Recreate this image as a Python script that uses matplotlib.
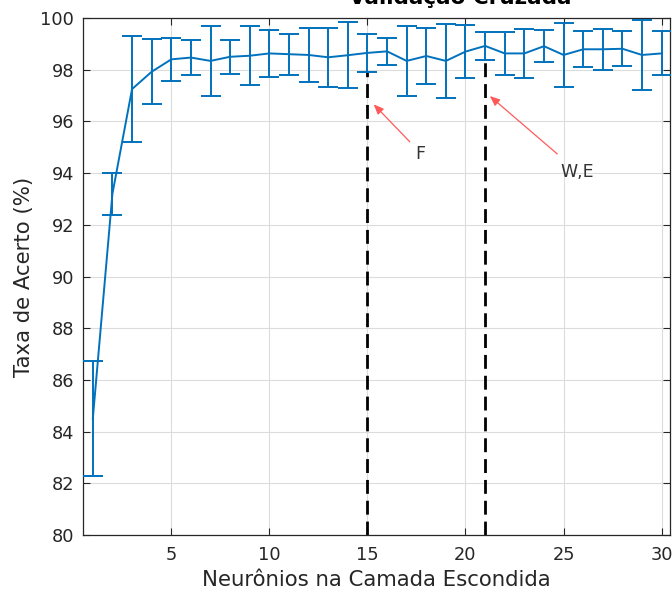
import matplotlib
matplotlib.use("Agg")
import matplotlib.pyplot as plt
import numpy as np

plt.rcParams['font.family'] = ['DejaVu Sans']

# Hidden-layer sizes and cross-validated accuracy (mean and spread)
neurons = list(range(1, 31))
accuracy = [84.5, 93.2, 97.25, 97.92, 98.40, 98.47, 98.34, 98.50, 98.54, 98.63,
            98.60, 98.57, 98.48, 98.56, 98.65, 98.71, 98.34, 98.53, 98.34, 98.70,
            98.92, 98.63, 98.63, 98.91, 98.57, 98.79, 98.79, 98.81, 98.57, 98.63]
spread = [2.22, 0.82, 2.05, 1.25, 0.83, 0.69, 1.35, 0.66, 1.14, 0.90,
          0.80, 1.06, 1.15, 1.28, 0.75, 0.51, 1.36, 1.09, 1.43, 1.02,
          0.53, 0.84, 0.94, 0.62, 1.24, 0.70, 0.79, 0.67, 1.35, 0.85]

yticks = list(range(80, 101, 2))
xticks = [5, 10, 15, 20, 25, 30]

# Selected configurations marked with dashed lines and arrows
marks = [
    {"n": 15, "label": "F", "head": (15.32, 96.66), "tail": (17.16, 95.21), "text": (17.7, 94.74)},
    {"n": 21, "label": "W,E", "head": (21.24, 96.98), "tail": (24.68, 94.74), "text": (25.7, 94.05)},
]

blue = '#0072BD'
grey_text = '#262626'

fig = plt.figure(figsize=(6.72, 5.98), dpi=100)
ax = fig.add_axes([83 / 672, 1 - 535 / 598, (669.5 - 83) / 672, (535 - 18) / 598])

ax.errorbar(neurons, accuracy, yerr=spread, color=blue, lw=1.4, elinewidth=1.4,
            capsize=7.5, capthick=1.4, zorder=3)

for m in marks:
    i = neurons.index(m["n"])
    ax.vlines(m["n"], 80, accuracy[i] - spread[i], colors='black', linestyles=(0, (5, 2.5)),
              lw=2, zorder=2)
    ax.annotate('', xy=m["head"], xytext=m["tail"],
                arrowprops=dict(arrowstyle='-|>,head_length=0.6,head_width=0.25',
                                color='#ff5a5a', lw=0.9, shrinkA=0, shrinkB=0), zorder=4)
    ax.text(m["text"][0], m["text"][1], m["label"], ha='center', va='center',
            fontsize=12.5, color='#333333')

ax.set_xlim(0.5, 30.4)
ax.set_ylim(80, 100)
ax.set_xticks(xticks)
ax.set_yticks(yticks)
ax.grid(True, color='#dcdcdc', lw=0.8)
ax.set_axisbelow(True)
ax.tick_params(direction='in', top=True, right=True, length=5, width=0.8,
               labelsize=12.8, colors=grey_text)
ax.tick_params(axis='x', pad=8)
ax.tick_params(axis='y', pad=6.5)
for s in ax.spines.values():
    s.set_color('#262626')
    s.set_linewidth(0.9)

ax.set_xlabel('Neurônios na Camada Escondida', fontsize=15.3, color=grey_text)
ax.set_ylabel('Taxa de Acerto (%)', fontsize=15.3, color=grey_text)
ax.xaxis.set_label_coords(0.5, (535 - 570) / 517)
ax.yaxis.set_label_coords((34 - 83) / 586.5, 0.5)

fig.text(460 / 672, 1 - 4 / 598, 'Validação Cruzada', ha='center', va='baseline',
         fontsize=15.5, fontweight='bold', color='black')

fig.savefig('out.png', dpi=100)
